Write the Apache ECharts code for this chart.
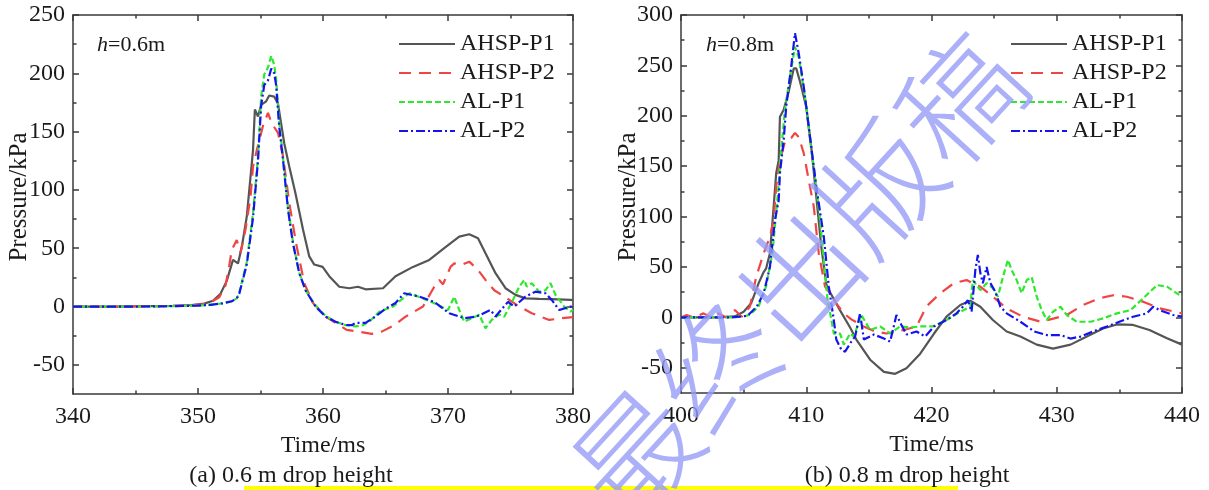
<!DOCTYPE html>
<html>
<head>
<meta charset="utf-8">
<script src="https://cdn.jsdelivr.net/npm/echarts@6/dist/echarts.min.js"></script>
<style>
html,body{margin:0;padding:0;background:#fff;}
#chart{width:1209px;height:490px;}
</style>
</head>
<body>
<div id="chart"></div>
<script>
// ---------- data (time in ms, pressure in kPa) ----------
const seriesNames = ['AHSP-P1', 'AHSP-P2', 'AL-P1', 'AL-P2'];

// (a) h = 0.6 m
const leftAHSP_P1 = [[340,0],[343,0],[346,0.3],[348,0.6],[349.5,1.2],[350.5,2.5],[351.2,5],[351.8,11],[352.3,22],[352.8,40],[353.2,37],[353.5,51],[353.9,77],[354.2,111],[354.4,134],[354.55,169],[354.8,163],[355.05,173],[355.45,176],[355.7,181],[356.1,180],[356.4,174],[356.9,140],[357.3,120],[357.8,97],[358.4,66],[358.9,43],[359.3,36],[359.97,34],[360.5,26],[361.3,17],[362.1,15.7],[362.8,17],[363.4,14.8],[364.8,15.7],[365.8,26],[367.2,34],[368.5,40],[369.8,51],[370.9,60],[371.7,62],[372.4,58.6],[373,45.7],[373.8,28.6],[374.6,15.7],[375.4,10],[376.2,7],[377.3,6.5],[378.3,6.3],[379.8,5.7],[380,5.5]];
const leftAHSP_P2 = [[340,0],[344,0],[347,0.3],[349,0.8],[350.3,1.8],[351,3.5],[351.7,8],[352.2,18],[352.5,35],[352.7,48.5],[353.1,57],[353.4,46],[353.8,66],[354.2,94],[354.4,120],[354.7,134],[355.2,155],[355.6,166],[355.9,157],[356.4,149],[356.8,129],[357.3,89],[357.85,54],[358.5,20],[359.2,3],[360.2,-8.6],[361,-14],[361.9,-20],[362.8,-21.5],[363.9,-23.5],[364.7,-21.5],[365.7,-16],[366.6,-8.7],[368,0],[368.9,17],[369.3,22.8],[369.6,19],[370.2,34],[370.5,37],[371.1,35.7],[371.7,38.5],[372.4,31.4],[373,22.8],[373.7,14],[374.5,8.5],[375.7,0],[376.7,-5.7],[378.1,-11.5],[379.1,-10],[380,-9]];
const leftAL_P1 = [[340,0],[345,0],[348,0.3],[350,0.8],[351,1.5],[352,2.8],[352.7,4.5],[353.1,7],[353.3,11.7],[353.9,38],[354.4,80],[354.8,128],[355.05,180],[355.3,199],[355.6,205],[355.86,215],[356.1,207],[356.25,195],[356.5,158],[356.8,128],[357.2,85],[357.6,55],[358.1,29],[358.6,14],[359.4,1],[360.2,-8],[361,-13],[361.8,-16],[362.6,-17],[363.2,-16],[363.8,-12],[364.5,-4.4],[365.6,0],[366.9,11.4],[368,7],[369.2,1.4],[370,-3],[370.5,8.5],[370.9,-3],[371.3,-13],[371.9,-10],[372.5,-7],[373,-18.6],[373.5,-11.5],[374.1,-7],[374.5,-8.7],[375.2,5.7],[375.7,17],[376.1,22.8],[376.3,17],[376.7,20],[377.3,12.8],[377.8,14],[378.2,20],[378.6,10],[379.3,0],[379.8,-4.4],[380,-3]];
const leftAL_P2 = [[340,0],[345,0],[348,0.3],[350,0.8],[351,1.5],[352,2.8],[352.7,4.5],[353.1,7],[353.3,11],[353.9,36],[354.4,76],[354.8,125],[355.05,172],[355.3,190],[355.6,194],[355.86,204],[356.1,200],[356.25,190],[356.5,154],[356.8,126],[357.2,83],[357.6,54],[358.1,28.6],[358.6,14],[359.4,0],[360.2,-8.6],[361,-13],[361.8,-15.8],[362.3,-16],[362.6,-14],[363.4,-14],[364.2,-8.6],[365,-2],[365.8,3],[366.5,11.4],[367.7,8.5],[368.9,4],[370.1,-5.7],[371.3,-10],[372.3,-8.5],[373.4,-3],[373.8,-8.5],[374.8,4],[375.3,0],[376.2,8.5],[377,12.8],[377.8,11.4],[378.3,5.7],[378.9,-3],[379.8,0],[380,0]];

// (b) h = 0.8 m
const rightAHSP_P1 = [[400,0],[403,0],[404.3,1],[405,5.6],[405.6,14],[406.2,34],[406.6,45],[406.8,48.7],[407.1,63.5],[407.4,110],[407.6,143],[407.8,156],[407.9,199],[408.2,206],[408.6,224],[409,247],[409.2,247],[409.5,234],[410,209],[410.4,169],[410.8,120],[411.2,70],[411.6,33],[411.9,25],[412.7,7],[413.5,-10],[414,-22],[415.1,-42],[416.2,-54],[417.1,-56],[418,-50.5],[419.1,-36],[420.2,-16],[421.2,0.7],[422.3,12.3],[423.1,16.5],[423.9,10.6],[424.9,-2.6],[426,-14],[427.1,-19],[428.4,-27],[429.7,-31],[431.1,-27],[432.4,-19],[433.7,-11],[434.8,-7],[436.1,-7.5],[437.4,-12.5],[438.8,-20.7],[440,-27]];
const rightAHSP_P2 = [[400,0],[400.45,2.4],[401,0],[401.8,4],[402.4,0],[403,4],[403.6,0],[404.3,7.3],[404.85,0.7],[405.5,10.6],[406,40],[406.6,63.5],[407.1,80],[407.4,96.6],[407.6,129.7],[407.9,156],[408.3,174],[408.8,178],[409.1,183],[409.4,179],[409.8,163],[410.2,136],[410.6,110],[411,63.5],[411.5,30.5],[411.9,24],[412.4,14],[413,4],[413.6,-2],[414.6,-9],[415.5,-14],[416.4,-16],[417.8,-12.5],[418.8,-9],[419.6,11],[420.7,24],[421.8,34],[422.8,37],[423.9,30.5],[424.9,20.5],[426,9],[427.3,0.7],[428.7,-4.3],[429.8,-1],[430.8,2.4],[432.1,12.3],[433.4,19],[434.5,22],[435.6,20.5],[436.9,15.6],[438.2,9],[440,4]];
const rightAL_P1 = [[400,0],[404,0],[405,1],[405.5,2.6],[406.2,11],[406.8,31],[407.3,64],[407.7,117],[408,166],[408.3,206],[408.7,239],[409.1,268.5],[409.4,258],[409.9,219],[410.3,176],[410.7,140],[411.1,97],[411.4,57],[411.7,17.5],[412,-2],[412.2,-16],[412.7,-16],[413,-27],[413.5,-16],[413.8,-19],[414.4,2.4],[415.1,-12.5],[415.9,-9],[416.7,-16],[417.5,-9],[418.3,-10],[419.1,-9],[420.1,-9],[421.2,-2.6],[422.3,5.6],[423.1,10.6],[423.3,37],[423.9,27],[424.4,34],[424.9,29],[425.3,20.5],[425.7,40],[426.1,57],[426.4,47],[426.8,37],[427.2,24],[427.6,37],[428,40],[428.4,20.5],[428.8,7.3],[429.2,-2.6],[429.7,5.6],[430.3,10.6],[430.8,2.4],[431.6,-4.3],[432.7,-4.3],[433.7,-1],[434.8,4],[435.9,7.3],[436.9,19],[438,32],[438.8,30.5],[440,20.5]];
const rightAL_P2 = [[400,0],[404,0],[405.3,1.5],[406.05,10.6],[406.6,24],[407.1,50],[407.5,96.6],[407.8,116],[407.9,143],[408.2,176],[408.4,209],[408.8,249],[409.1,282],[409.4,262],[409.8,229],[410.3,179],[410.8,130],[411.4,80],[411.8,30.5],[412.2,-2.6],[412.4,-22],[412.8,-32],[413.1,-34],[413.6,-24],[413.9,-19],[414.3,4],[414.6,-22],[415.4,-17],[416.2,-21],[416.7,-24],[417.2,2.4],[417.6,-7.5],[418,-17],[418.8,-14],[419.5,-19],[420.2,-9],[421.2,-2.6],[422,4],[422.5,10.6],[422.9,17],[423.2,5.6],[423.5,47],[423.7,62],[423.9,44],[424.1,34],[424.4,50],[424.7,34],[425.1,25.4],[425.5,10.6],[426,4],[427.1,-4.3],[428.2,-14],[429.2,-17.5],[430.3,-17.5],[431.1,-21],[431.9,-19],[432.9,-14],[434,-9],[435,-4.3],[436.1,0.7],[437.2,4],[437.7,10.6],[438.2,7.3],[439.3,2.4],[440,0.7]];

// ---------- ticks ----------
const leftXTicks = [340, 350, 360, 370, 380];
const leftXMinor = [345, 355, 365, 375];
const rightXTicks = [400, 410, 420, 430, 440];
const rightXMinor = [405, 415, 425, 435];
const leftYTicks = [-50, 0, 50, 100, 150, 200, 250];
const leftYMinor = [-25, 25, 75, 125, 175, 225];
const rightYTicks = [-50, 0, 50, 100, 150, 200, 250, 300];
const rightYMinor = [-25, 25, 75, 125, 175, 225, 275];

const captions = ['(a) 0.6 m drop height', '(b) 0.8 m drop height'];
const heightLabels = ['0.6m', '0.8m'];
const yTitle = 'Pressure/kPa';
const xTitle = 'Time/ms';

// ---------- styling ----------
const SERIF = '"Liberation Serif", "Times New Roman", serif';
const AXIS_COLOR = '#3a3a3a';
const TEXT_COLOR = '#1a1a1a';
const FS = 24;
const colors = ['#555555', '#f04545', '#2ee82e', '#1414ee'];
const dashes = ['solid', [12, 8], [6, 3], [9, 3, 2, 3]];

function axisSet(dim, gridIndex, min, max, major, minor, name) {
  const base = {
    type: 'value', gridIndex: gridIndex, min: min, max: max,
    splitLine: { show: false }, axisPointer: { show: false }
  };
  const mainPos = dim === 'x' ? 'bottom' : 'left';
  const mirPos = dim === 'x' ? 'top' : 'right';
  const lineOn = { show: true, onZero: false, lineStyle: { color: AXIS_COLOR, width: 1.5 } };
  const lineOff = { show: false, onZero: false };
  const mk = (pos, values, len, showLine, labels) => Object.assign({}, base, {
    position: pos,
    axisLine: showLine ? lineOn : lineOff,
    axisTick: { show: true, inside: true, length: len, customValues: values,
                lineStyle: { color: AXIS_COLOR, width: 1.5 } },
    axisLabel: labels ? {
      show: true, customValues: values, margin: dim === 'x' ? 11 : 8,
      color: TEXT_COLOR, fontSize: FS, fontFamily: SERIF
    } : { show: false }
  });
  const main = mk(mainPos, major, 6, true, true);
  if (name) {
    main.name = name;
    main.nameLocation = 'middle';
    main.nameGap = 33;
    main.nameTextStyle = { color: TEXT_COLOR, fontSize: FS, fontFamily: SERIF };
  }
  return [
    main,
    mk(mirPos, major, 6, true, false),
    mk(mainPos, minor, 3.5, false, false),
    mk(mirPos, minor, 3.5, false, false)
  ];
}

const xAxes = [].concat(
  axisSet('x', 0, 340, 380, leftXTicks, leftXMinor, xTitle),
  axisSet('x', 1, 400, 440, rightXTicks, rightXMinor, xTitle)
);
const yAxes = [].concat(
  axisSet('y', 0, -75, 250, leftYTicks, leftYMinor, null),
  axisSet('y', 1, -75, 300, rightYTicks, rightYMinor, null)
);

const panelData = [
  [leftAHSP_P1, leftAHSP_P2, leftAL_P1, leftAL_P2],
  [rightAHSP_P1, rightAHSP_P2, rightAL_P1, rightAL_P2]
];
const series = [];
panelData.forEach((arrs, p) => {
  arrs.forEach((d, i) => {
    series.push({
      type: 'line', name: seriesNames[i], data: d,
      xAxisIndex: p * 4, yAxisIndex: p * 4,
      showSymbol: false, symbol: 'none', smooth: false, animation: false,
      lineStyle: { color: colors[i], width: 2.2, type: dashes[i] },
      itemStyle: { color: colors[i] },
      z: 2 + i
    });
  });
});

function legendAt(left) {
  return {
    data: seriesNames, left: left, top: 32, orient: 'vertical',
    itemWidth: 56, itemHeight: 14, itemGap: 5, padding: 0,
    selectedMode: false,
    itemStyle: { opacity: 0 },
    textStyle: { color: TEXT_COLOR, fontSize: FS, fontFamily: SERIF, lineHeight: 24 }
  };
}

function hLabel(x, txt) {
  return {
    type: 'text', x: x, y: 45, z: 50,
    style: {
      text: '{i|h}=' + txt,
      rich: { i: { fontStyle: 'italic', fontSize: 22, fontFamily: SERIF, fill: TEXT_COLOR } },
      fontSize: 22, fontFamily: SERIF, fill: TEXT_COLOR,
      textAlign: 'left', textVerticalAlign: 'middle'
    }
  };
}

function yName(x) {
  return {
    type: 'text', x: x, y: 197, rotation: Math.PI / 2, z: 50,
    style: { text: yTitle, fontSize: 25, fontFamily: SERIF, fill: TEXT_COLOR,
             textAlign: 'center', textVerticalAlign: 'middle' }
  };
}

const option = {
  backgroundColor: '#ffffff',
  animation: false,
  grid: [
    { left: 73, right: 636, top: 15, bottom: 96 },
    { left: 681, right: 27, top: 15, bottom: 97 }
  ],
  xAxis: xAxes,
  yAxis: yAxes,
  legend: [legendAt(398), legendAt(1010)],
  series: series,
  graphic: { elements: [
    yName(19),
    yName(628),
    hLabel(97, heightLabels[0]),
    hLabel(706, heightLabels[1]),
    { type: 'text', x: 291, y: 476, z: 50,
      style: { text: captions[0], fontSize: FS, fontFamily: SERIF, fill: TEXT_COLOR,
               textAlign: 'center', textVerticalAlign: 'middle' } },
    { type: 'text', x: 907, y: 476, z: 50,
      style: { text: captions[1], fontSize: FS, fontFamily: SERIF, fill: TEXT_COLOR,
               textAlign: 'center', textVerticalAlign: 'middle' } },
    { type: 'rect', shape: { x: 244, y: 486, width: 714, height: 4 }, z: 40,
      style: { fill: '#ffff00' } },
    { type: 'text', x: 798, y: 276, rotation: 47.5 * Math.PI / 180, z: 100,
      style: { text: '最终出版稿', fontSize: 120, fontWeight: 200, fontFamily: '"Noto Sans CJK SC"',
               fill: 'rgba(150,156,248,0.8)', textAlign: 'center', textVerticalAlign: 'middle' } }
  ] }
};

const chart = echarts.init(document.getElementById('chart'), null, { renderer: 'canvas' });
chart.setOption(option);
</script>
</body>
</html>
